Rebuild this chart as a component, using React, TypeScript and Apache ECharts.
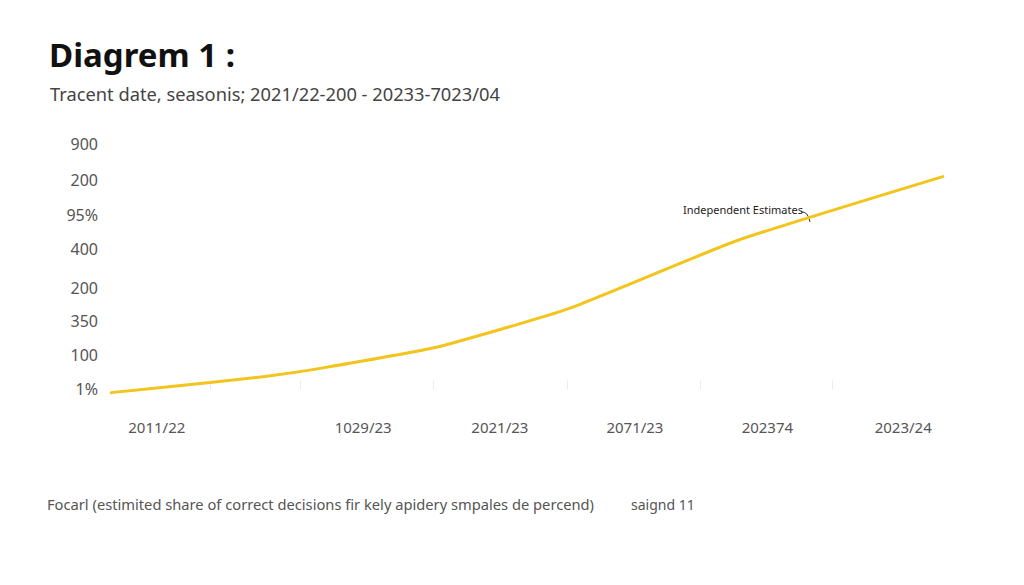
import React, { useEffect, useRef } from "react";
import * as echarts from "echarts";

const titleText = "Diagrem 1 :";
const subtitleText = "Tracent date, seasonis; 2021/22-200 - 20233-7023/04";
const footerText = "Focarl (estimited share of correct decisions fir kely apidery smpales de percend)";
const footerRight = "saignd 11";
const annotationText = "Independent Estimates";

// y-axis tick labels and their positions on the value scale
const yLabels = ["1%", "100", "350", "200", "400", "95%", "200", "900"];
const yTickPos = [0, 0.97, 1.94, 2.9, 4.01, 4.98, 5.95, 7.0];

// x-axis category labels and their positions on a 0..100 scale
const xLabels = ["2011/22", "1029/23", "2021/23", "2071/23", "202374", "2023/24"];
const xLabelPos = [6.6, 30.6, 46.5, 62.2, 77.6, 93.4];
const xTickPos = [12.8, 23.3, 38.8, 54.3, 69.8, 85.2];

// series points
const seriesX = [1.3, 12.8, 19.2, 25.6, 39.1, 54.5, 74.1, 98.0];
const seriesY = [-0.09, 0.2, 0.37, 0.6, 1.2, 2.3, 4.24, 6.06];

const FONT = "'Noto Sans', 'Open Sans', sans-serif";

export default function App() {
  const ref = useRef<HTMLDivElement>(null);
  useEffect(() => {
    if (!ref.current) return;
    document.body.style.margin = "0";
    const chart = echarts.init(ref.current, null, { renderer: "svg" });
    const labelFor = (v: number, arr: number[], labels: string[]) => {
      let best = -1;
      let bd = 1e9;
      arr.forEach((p, i) => {
        const d = Math.abs(p - v);
        if (d < bd) {
          bd = d;
          best = i;
        }
      });
      return bd < 0.05 ? labels[best] : "";
    };
    chart.setOption({
      animation: false,
      backgroundColor: "#ffffff",
      grid: { left: 100, right: 64, top: 126, bottom: 185, containLabel: false },
      xAxis: {
        type: "value",
        min: 0,
        max: 100,
        axisLine: { show: false },
        splitLine: { show: false },
        axisTick: {
          show: true,
          inside: true,
          length: 9,
          customValues: xTickPos,
          lineStyle: { color: "#ececec", width: 1 },
        },
        axisLabel: {
          show: true,
          customValues: xLabelPos,
          margin: 19,
          fontSize: 15,
          color: "#555",
          fontFamily: FONT,
          formatter: (v: number) => labelFor(v, xLabelPos, xLabels),
        },
      },
      yAxis: {
        type: "value",
        min: -0.3,
        max: 7.5,
        axisLine: { show: false },
        axisTick: { show: false },
        splitLine: { show: false },
        axisLabel: {
          show: true,
          customValues: yTickPos,
          margin: 2,
          fontSize: 16,
          color: "#555",
          fontFamily: FONT,
          formatter: (v: number) => labelFor(v, yTickPos, yLabels),
        },
      },
      series: [
        {
          type: "line",
          data: seriesX.map((x, i) => [x, seriesY[i]]),
          showSymbol: false,
          symbol: "none",
          smooth: 0.15,
          clip: false,
          lineStyle: { color: "#F2C41C", width: 3, cap: "round" },
        },
      ],
      graphic: [
        {
          type: "text",
          left: 49,
          top: 38,
          style: {
            text: titleText,
            fontSize: 33,
            fontWeight: "bold",
            fill: "#111",
            fontFamily: FONT,
          },
        },
        {
          type: "text",
          left: 50,
          top: 84,
          style: {
            text: subtitleText,
            fontSize: 18.3,
            fill: "#444",
            fontFamily: FONT,
          },
        },
        {
          type: "text",
          left: 47,
          top: 496,
          style: {
            text: footerText,
            fontSize: 14.7,
            fill: "#555",
            fontFamily: FONT,
          },
        },
        {
          type: "text",
          left: 631,
          top: 497,
          style: {
            text: footerRight,
            fontSize: 14,
            fill: "#555",
            fontFamily: FONT,
          },
        },
        {
          type: "text",
          left: 683,
          top: 204,
          style: {
            text: annotationText,
            fontSize: 11,
            fill: "#222",
            fontFamily: FONT,
          },
        },
        {
          type: "bezierCurve",
          shape: { x1: 801, y1: 212, x2: 810, y2: 222, cpx1: 808, cpy1: 211 },
          style: { stroke: "#333", lineWidth: 1, fill: "none" },
        },
      ],
    });
    return () => chart.dispose();
  }, []);
  return <div ref={ref} style={{ width: 1024, height: 585 }} />;
}
